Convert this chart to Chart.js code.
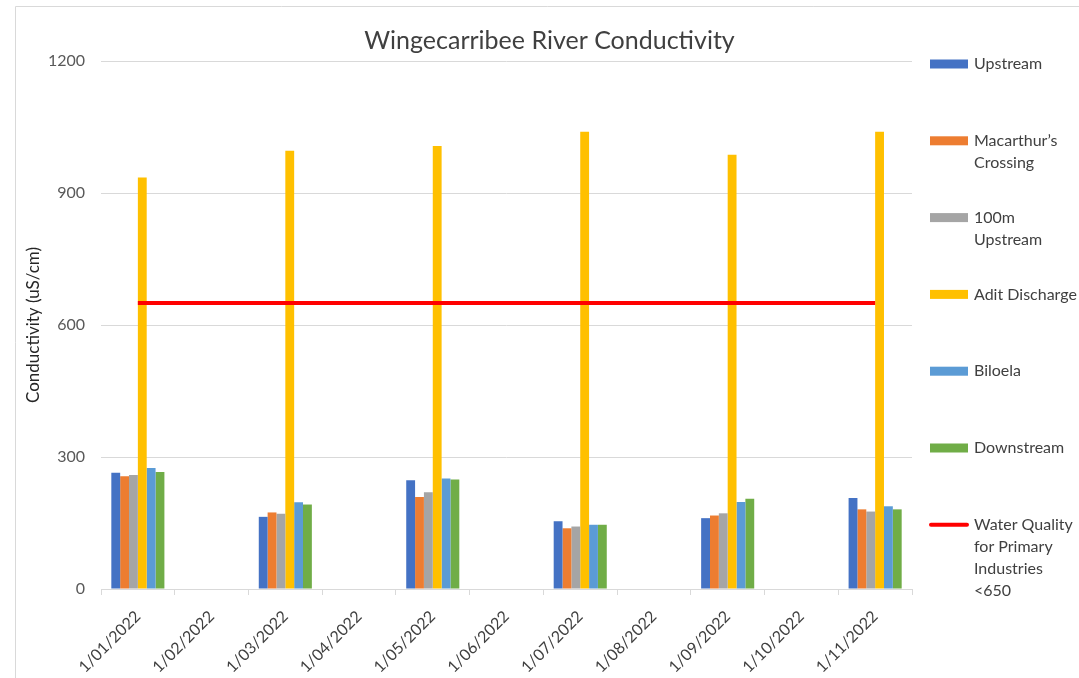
<!DOCTYPE html>
<html>
<head>
<meta charset="utf-8">
<title>Wingecarribee River Conductivity</title>
<script src="https://cdn.jsdelivr.net/npm/chart.js@4.4.1/dist/chart.umd.min.js"></script>
<style>
    html, body { margin: 0; padding: 0; background: #ffffff; }
    #wrap { width: 1079px; height: 678px; }
</style>
</head>
<body>
<div id="wrap"><canvas id="conductivityChart" width="1079" height="678"></canvas></div>
<script>
// Sampling dates (one every month, samples taken every second month)
const categories = [
    "1/01/2022", "1/02/2022", "1/03/2022", "1/04/2022", "1/05/2022", "1/06/2022",
    "1/07/2022", "1/08/2022", "1/09/2022", "1/10/2022", "1/11/2022"
];

// Conductivity readings (uS/cm), null where no sample was taken
const upstream       = [264, null, 164, null, 247, null, 154, null, 161, null, 207];
const macarthurs     = [256, null, 174, null, 209, null, 138, null, 167, null, 181];
const upstream100m   = [259, null, 171, null, 220, null, 142, null, 172, null, 176];
const aditDischarge  = [935, null, 996, null, 1007, null, 1039, null, 987, null, 1039];
const biloela        = [275, null, 197, null, 251, null, 146, null, 198, null, 188];
const downstream     = [266, null, 192, null, 249, null, 146, null, 205, null, 181];
const guideline      = [650, 650, 650, 650, 650, 650, 650, 650, 650, 650, 650];

const yTicks = [0, 300, 600, 900, 1200];

const seriesLabels = [
    ["Upstream"],
    ["Macarthur\u2019s", "Crossing"],
    ["100m", "Upstream"],
    ["Adit Discharge"],
    ["Biloela"],
    ["Downstream"],
    ["Water Quality", "for Primary", "Industries", "<650"]
];

const FONT = "Lato, 'Open Sans', sans-serif";
const TEXT = "#404040";
const GRID = "#d9d9d9";

/* Draws the thin chart frame on the top and left edge. */
const framePlugin = {
    id: "frame",
    beforeDraw(chart) {
        const ctx = chart.ctx;
        ctx.save();
        ctx.strokeStyle = GRID;
        ctx.lineWidth = 1;
        ctx.beginPath();
        ctx.moveTo(15.5, 678);
        ctx.lineTo(15.5, 6.5);
        ctx.lineTo(1079, 6.5);
        ctx.stroke();
        ctx.restore();
    }
};

/* Excel-style legend on the right with wrapped labels. */
const sideLegend = {
    id: "sideLegend",
    afterDraw(chart) {
        const ctx = chart.ctx;
        const x = chart.chartArea.right + 18;
        ctx.save();
        ctx.font = "16px " + FONT;
        ctx.textBaseline = "middle";
        ctx.textAlign = "left";
        chart.data.datasets.forEach((ds, i) => {
            const y = 64 + i * 76.8;
            if (ds.type === "line") {
                ctx.strokeStyle = ds.borderColor;
                ctx.lineWidth = 4;
                ctx.lineCap = "round";
                ctx.beginPath();
                ctx.moveTo(x + 1, y);
                ctx.lineTo(x + 37, y);
                ctx.stroke();
            } else {
                ctx.fillStyle = ds.backgroundColor;
                ctx.fillRect(x, y - 4.5, 38, 9);
            }
            ctx.fillStyle = TEXT;
            seriesLabels[i].forEach((line, j) => {
                ctx.fillText(line, x + 44, y + j * 22);
            });
        });
        ctx.restore();
    }
};

function barSet(label, data, color) {
    return {
        type: "bar",
        label: label,
        data: data,
        backgroundColor: color,
        borderWidth: 0,
        order: 1,
        categoryPercentage: 0.72,
        barPercentage: 1.0
    };
}

function initializeChart() {
    const ctx = document.getElementById("conductivityChart").getContext("2d");

    new Chart(ctx, {
        data: {
            labels: categories,
            datasets: [
                barSet("Upstream", upstream, "#4472C4"),
                barSet("Macarthur\u2019s Crossing", macarthurs, "#ED7D31"),
                barSet("100m Upstream", upstream100m, "#A5A5A5"),
                barSet("Adit Discharge", aditDischarge, "#FFC000"),
                barSet("Biloela", biloela, "#5B9BD5"),
                barSet("Downstream", downstream, "#70AD47"),
                {
                    type: "line",
                    label: "Water Quality for Primary Industries <650",
                    data: guideline,
                    borderColor: "#FF0000",
                    borderWidth: 4,
                    pointRadius: 0,
                    fill: false,
                    order: 0
                }
            ]
        },
        options: {
            responsive: false,
            animation: false,
            layout: { padding: { left: 20, right: 0, top: 0, bottom: 0 } },
            plugins: {
                legend: { display: false },
                tooltip: { enabled: false },
                title: {
                    display: true,
                    text: "Wingecarribee River Conductivity",
                    color: TEXT,
                    font: { family: FONT, size: 25, weight: "normal" },
                    padding: { top: 26, bottom: 5 }
                }
            },
            scales: {
                x: {
                    offset: true,
                    afterFit: (scale) => { scale.height = 89; },
                    grid: {
                        offset: true,
                        drawOnChartArea: false,
                        drawTicks: true,
                        tickLength: 6,
                        color: GRID
                    },
                    border: { display: true, color: GRID },
                    ticks: {
                        color: TEXT,
                        font: { family: FONT, size: 16 },
                        minRotation: 45,
                        maxRotation: 45,
                        autoSkip: false,
                        padding: 12
                    }
                },
                y: {
                    min: 0,
                    max: 1200,
                    afterFit: (scale) => { scale.width = 81; },
                    afterBuildTicks: (scale) => { scale.ticks = yTicks.map((v) => ({ value: v })); },
                    grid: { color: GRID, drawTicks: false },
                    border: { display: false },
                    ticks: {
                        color: "#595959",
                        font: { family: FONT, size: 16 },
                        padding: 16,
                        callback: (value) => String(value)
                    },
                    title: {
                        display: true,
                        text: "Conductivity (uS/cm)",
                        color: "#262626",
                        font: { family: FONT, size: 17 },
                        padding: { top: 3, bottom: 0 }
                    }
                },
                // empty right-hand box that reserves room for the legend
                legendSpace: {
                    position: "right",
                    display: true,
                    afterFit: (scale) => { scale.width = 167; },
                    grid: { display: false, drawTicks: false },
                    border: { display: false },
                    ticks: { display: false }
                }
            }
        },
        plugins: [framePlugin, sideLegend]
    });
}

document.addEventListener("DOMContentLoaded", initializeChart);
</script>
</body>
</html>
